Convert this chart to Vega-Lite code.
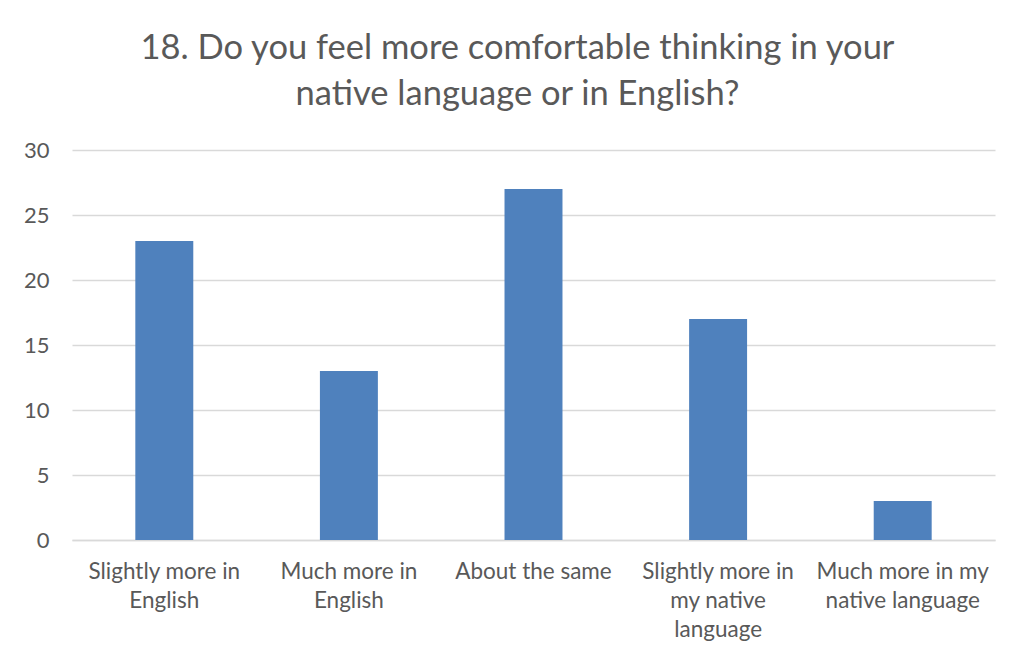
{
  "$schema": "https://vega.github.io/schema/vega-lite/v6.json",
  "autosize": {"type": "none"},
  "width": 923,
  "height": 390,
  "padding": {"left": 72, "top": 150, "right": 16, "bottom": 117},
  "background": "white",
  "title": {
    "text": ["18. Do you feel more comfortable thinking in your", "native language or in English?"],
    "anchor": "middle",
    "frame": "group",
    "dx": -16,
    "offset": 27,
    "font": "Lato",
    "fontSize": 34.5,
    "fontWeight": "normal",
    "lineHeight": 46,
    "color": "#595959"
  },
  "data": {
    "values": [
      {"answer": "Slightly more in English", "count": 23},
      {"answer": "Much more in English", "count": 13},
      {"answer": "About the same", "count": 27},
      {"answer": "Slightly more in my native language", "count": 17},
      {"answer": "Much more in my native language", "count": 3}
    ]
  },
  "mark": {"type": "bar", "color": "#4F81BD"},
  "encoding": {
    "x": {
      "field": "answer",
      "type": "nominal",
      "sort": null,
      "scale": {"paddingInner": 0.686, "paddingOuter": 0.343},
      "axis": {
        "title": null,
        "labelAngle": 0,
        "ticks": false,
        "domain": true,
        "domainColor": "#D9D9D9",
        "domainWidth": 1.5,
        "labelFont": "Lato",
        "labelFontSize": 22.5,
        "labelColor": "#595959",
        "labelPadding": 20,
        "labelLineHeight": 29,
        "labelBaseline": "top",
        "labelExpr": "datum.value == 'Slightly more in English' ? ['Slightly more in', 'English'] : datum.value == 'Much more in English' ? ['Much more in', 'English'] : datum.value == 'Slightly more in my native language' ? ['Slightly more in', 'my native', 'language'] : datum.value == 'Much more in my native language' ? ['Much more in my', 'native language'] : datum.value"
      }
    },
    "y": {
      "field": "count",
      "type": "quantitative",
      "scale": {"domain": [0, 30], "nice": false},
      "axis": {
        "title": null,
        "values": [0, 5, 10, 15, 20, 25, 30],
        "ticks": false,
        "domain": false,
        "grid": true,
        "gridColor": "#D9D9D9",
        "gridWidth": 1.5,
        "labelFont": "Lato",
        "labelFontSize": 22,
        "labelColor": "#595959",
        "labelPadding": 23
      }
    }
  },
  "config": {"view": {"stroke": null}}
}
